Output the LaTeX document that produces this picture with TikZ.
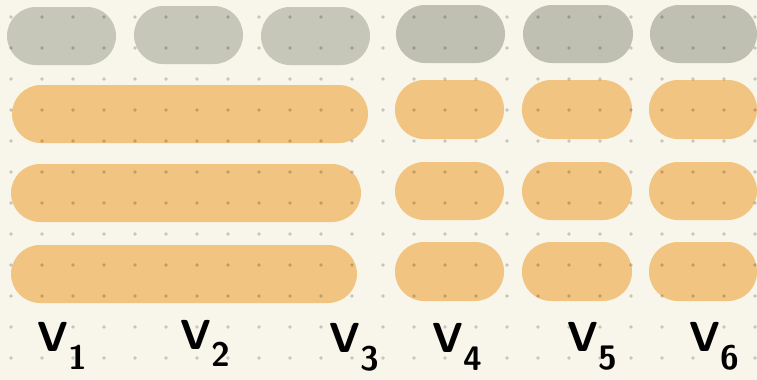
\documentclass[tikz,border=0pt]{standalone}
\usepackage{tikz}

\definecolor{fondo}{HTML}{F8F6EA}
\definecolor{grisA}{HTML}{C6C6B9}
\definecolor{grisB}{HTML}{BFBFB2}
\definecolor{naranja}{HTML}{F2C482}
\newcommand{\vsub}[1]{V\raisebox{-9pt}{\fontsize{17}{19}\selectfont #1}}

\begin{document}
\begin{tikzpicture}[x=0.5pt, y=-0.5pt,
  pill/.style={rounded corners=14.5pt},
  etiq/.style={anchor=base west, inner sep=0pt, font=\sffamily\bfseries\fontsize{21}{25}\selectfont}]
  \useasboundingbox (0,0) rectangle (757,380);
  \fill[fondo] (0,0) rectangle (757,380);
  % fila superior
  \fill[pill,grisA] (7,7) rectangle (116,65);
  \fill[pill,grisA] (134,6) rectangle (243,64);
  \fill[pill,grisA] (261,7) rectangle (370,65);
  \foreach \xa/\xb in {396/505,523/633,650/757}
    \fill[pill,grisB] (\xa,5) rectangle (\xb,63);
  % barras largas
  \fill[pill,naranja] (12,85) rectangle (368,143);
  \fill[pill,naranja] (11,164) rectangle (361,222);
  \fill[pill,naranja] (11,245) rectangle (357,303);
  % bloques cortos
  \foreach \xa/\xb in {395/504,522/632,649/757}
    \foreach \ya/\yb in {80/139,162/220,242/301}
      \fill[pill,naranja] (\xa,\ya) rectangle (\xb,\yb);
  % puntos
  \foreach \i in {0,...,24}
    \foreach \j in {0,...,11}
      \fill[black,opacity=0.2] (11+31*\i,17+31*\j) circle (0.95pt);
  % etiquetas
  \node[etiq] (v1) at (37,351) {\vsub{1}};
  \node[etiq] (v2) at (180,349) {\vsub{2}};
  \node[etiq] (v3) at (329,352) {\vsub{3}};
  \node[etiq] (v4) at (432,352) {\vsub{4}};
  \node[etiq] (v5) at (567,351) {\vsub{5}};
  \node[etiq] (v6) at (689,351) {\vsub{6}};
\end{tikzpicture}
\end{document}
